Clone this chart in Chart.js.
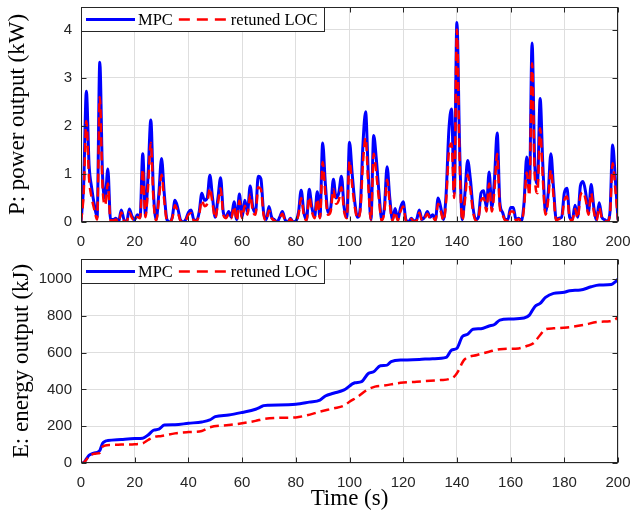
<!DOCTYPE html>
<html>
<head>
<meta charset="utf-8">
<script src="https://cdn.jsdelivr.net/npm/chart.js@4.4.1/dist/chart.umd.min.js"></script>
<style>
  html, body { margin: 0; padding: 0; background: #fff; }
  #wrap { position: relative; width: 633px; height: 519px; }
  canvas { position: absolute; left: 0; }
  #power { top: 0; }
  #energy { top: 252px; }
</style>
</head>
<body>
<div id="wrap">
  <canvas id="power" width="633" height="252"></canvas>
  <canvas id="energy" width="633" height="267"></canvas>
</div>
<script>
// power output (kW), one sample per second, t = 0..200 s
const mpcPower = [
  0, 0.8, 2.72, 1.2, 0.7, 0.35, 0.1, 3.32, 1.0, 0.5,
  1.1, 0.05, 0.05, 0.08, 0, 0.25, 0.05, 0, 0.27, 0.12,
  0.05, 0.15, 0.1, 1.42, 0.15, 1.0, 2.12, 0.6, 0.05, 0.6,
  1.32, 0.6, 0.05, 0, 0.1, 0.45, 0.3, 0.05, 0, 0.05,
  0.2, 0.25, 0.05, 0.03, 0.2, 0.6, 0.45, 0.5, 0.97, 0.5,
  0.1, 0.5, 0.92, 0.2, 0.1, 0.22, 0.1, 0.42, 0.05, 0.58,
  0.1, 0.45, 0.2, 0.75, 0.3, 0.2, 0.95, 0.9, 0.2, 0.05,
  0.32, 0.1, 0.05, 0, 0.1, 0.22, 0.05, 0, 0.08, 0,
  0.02, 0.2, 0.66, 0.2, 0.05, 0.68, 0.3, 0.1, 0.63, 0.1,
  1.64, 0.8, 0.2, 0.3, 0.89, 0.5, 0.6, 0.95, 0.3, 0.1,
  1.66, 1.0, 0.4, 0.1, 0.3, 1.6, 2.29, 1.0, 0.05, 1.8,
  1.3, 0.6, 0.05, 0.3, 1.15, 0.5, 0.05, 0.28, 0.05, 0.3,
  0.42, 0.05, 0, 0.08, 0.02, 0.05, 0.25, 0.05, 0.1, 0.22,
  0.1, 0.15, 0.05, 0.5, 0.3, 0.05, 0.6, 1.9, 2.35, 0.6,
  4.15, 1.6, 0.05, 0.6, 1.28, 0.9, 0.3, 0.05, 0.1, 0.6,
  0.65, 0.3, 1.04, 0.3, 0.9, 1.85, 0.4, 0.2, 0.05, 0.05,
  0.3, 0.3, 0.05, 0.08, 0.02, 0.4, 1.35, 0.7, 3.72, 1.2,
  0.8, 2.57, 1.2, 0.2, 0.6, 1.42, 0.7, 0.05, 0.08, 0.1,
  0.6, 0.7, 0.1, 0.05, 0.35, 0.1, 0.75, 0.84, 0.6, 0.2,
  0.78, 0.3, 0.05, 0.4, 0.1, 0.05, 0.02, 0.2, 1.6, 0.9,
  0.05
];
const locPower = [
  0, 0.6, 2.1, 0.9, 0.5, 0.25, 0.05, 2.6, 0.75, 0.35,
  0.8, 0.03, 0.03, 0.05, 0, 0.2, 0.03, 0, 0.2, 0.08,
  0.03, 0.1, 0.08, 1.1, 0.1, 0.75, 1.65, 0.45, 0.03, 0.45,
  0.98, 0.45, 0.03, 0, 0.08, 0.35, 0.22, 0.03, 0, 0.03,
  0.15, 0.18, 0.03, 0.02, 0.15, 0.45, 0.33, 0.38, 0.7, 0.38,
  0.08, 0.38, 0.7, 0.15, 0.08, 0.16, 0.08, 0.32, 0.03, 0.44,
  0.08, 0.34, 0.15, 0.57, 0.22, 0.15, 0.72, 0.68, 0.15, 0.03,
  0.24, 0.08, 0.03, 0, 0.08, 0.17, 0.03, 0, 0.06, 0,
  0.01, 0.15, 0.5, 0.15, 0.03, 0.52, 0.22, 0.08, 0.48, 0.08,
  1.25, 0.6, 0.15, 0.22, 0.68, 0.38, 0.45, 0.72, 0.22, 0.08,
  1.27, 0.76, 0.3, 0.08, 0.22, 1.22, 1.75, 0.76, 0.03, 1.42,
  1.0, 0.45, 0.03, 0.22, 0.88, 0.38, 0.03, 0.21, 0.03, 0.22,
  0.32, 0.03, 0, 0.06, 0.01, 0.03, 0.19, 0.03, 0.08, 0.17,
  0.08, 0.11, 0.03, 0.38, 0.22, 0.03, 0.45, 1.45, 1.63, 0.5,
  4.0, 1.3, 0.03, 0.45, 0.98, 0.68, 0.22, 0.03, 0.08, 0.45,
  0.5, 0.22, 0.8, 0.22, 0.68, 1.42, 0.3, 0.15, 0.03, 0.03,
  0.22, 0.22, 0.03, 0.06, 0.01, 0.3, 1.03, 0.55, 3.3, 0.95,
  0.6, 1.95, 0.9, 0.15, 0.45, 1.08, 0.53, 0.03, 0.06, 0.08,
  0.45, 0.53, 0.08, 0.03, 0.27, 0.08, 0.55, 0.62, 0.45, 0.15,
  0.6, 0.22, 0.03, 0.3, 0.08, 0.03, 0.01, 0.15, 1.22, 0.68,
  0.03
];

// energy output (kJ)
const mpcEnergyTime = [0, 1, 2, 3, 4, 5, 6, 7, 8, 9, 10, 15, 20, 23, 25, 27, 29, 31, 35, 40,
  45, 48, 50, 55, 60, 65, 67, 68, 70, 80, 85, 89, 91, 94, 98, 102, 104.5, 107, 109, 111.5,
  114, 115.5, 120, 126, 131, 136, 138, 140, 142, 144, 146, 149, 152, 154, 156, 160, 165, 167, 169, 171,
  173, 176, 180, 182, 186, 190, 193, 197.5, 199, 200];
const mpcEnergy = [0, 3, 22, 42, 50, 55, 58, 68, 106, 118, 122, 128, 133, 135, 152, 178, 184, 206, 208, 216,
  223, 234, 252, 261, 275, 292, 305, 312, 314, 319, 331, 342, 364, 379, 397, 436, 442, 487, 496, 529,
  532, 551, 560, 563, 567, 574, 614, 623, 687, 700, 727, 730, 745, 753, 777, 783, 788, 804, 850, 868,
  900, 922, 928, 937, 940, 958, 967, 970, 985, 1000];
const locEnergyTime = [0, 1, 2, 3, 4, 5, 6, 7, 8, 9, 11, 15, 20, 23, 25, 27, 30, 35, 40, 45,
  48, 55, 60, 65, 68, 75, 80, 83.5, 89, 94, 98, 100, 103, 106.5, 109.5, 112.5, 119, 125, 134, 137,
  139, 140.5, 142, 143, 147.5, 152, 156, 163, 166, 168.5, 171, 173, 176, 181, 187, 193, 197, 199, 200];
const locEnergy = [0, 2, 18, 38, 46, 50, 52, 56, 88, 95, 98, 100, 102, 107, 125, 141, 147, 161, 168, 174,
  194, 206, 216, 229, 239, 246, 248, 257, 279, 297, 312, 333, 359, 397, 415, 420, 436, 442, 451, 456,
  470, 500, 545, 565, 587, 605, 619, 623, 636, 651, 696, 727, 732, 737, 750, 768, 770, 780, 795];

const xTicks = [0, 20, 40, 60, 80, 100, 120, 140, 160, 180, 200];

const AXIS = "#262626";
const GRID = "#dedede";
const SANS = "'Liberation Sans', Arial, Helvetica, sans-serif";
const SERIF = "'Liberation Serif', 'Times New Roman', Times, serif";

function pts(xs, ys) {
  return ys.map((y, i) => ({ x: xs[i], y }));
}

// full box + inward ticks like matlab axes
const boxPlugin = {
  id: "box",
  afterDatasetsDraw(chart) {
    const { ctx, chartArea: a, scales } = chart;
    const L = Math.round(a.left) + 0.5, R = Math.round(a.right) - 0.5;
    const T = Math.round(a.top) + 0.5, B = Math.round(a.bottom) - 0.5;
    ctx.save();
    ctx.strokeStyle = AXIS;
    ctx.lineWidth = 1;
    ctx.strokeRect(L, T, R - L, B - T);
    ctx.beginPath();
    scales.x.ticks.forEach(t => {
      const px = Math.round(scales.x.getPixelForValue(t.value)) + 0.5;
      ctx.moveTo(px, B); ctx.lineTo(px, B - 5);
      ctx.moveTo(px, T); ctx.lineTo(px, T + 5);
    });
    scales.y.ticks.forEach(t => {
      const py = Math.round(scales.y.getPixelForValue(t.value)) + 0.5;
      ctx.moveTo(L, py); ctx.lineTo(L + 5, py);
      ctx.moveTo(R, py); ctx.lineTo(R - 5, py);
    });
    ctx.stroke();
    ctx.restore();
  }
};

const legendPlugin = {
  id: "boxLegend",
  afterDatasetsDraw(chart) {
    const { ctx, chartArea: a } = chart;
    const x0 = Math.round(a.left) + 0.5, y0 = Math.round(a.top) + 0.5;
    const w = 243, h = 24;
    ctx.save();
    ctx.fillStyle = "#fff";
    ctx.fillRect(x0, y0, w, h);
    ctx.strokeStyle = AXIS;
    ctx.lineWidth = 1;
    ctx.strokeRect(x0, y0, w, h);
    ctx.font = "16.5px " + SERIF;
    ctx.textBaseline = "middle";
    let x = x0 + 4.5;
    const ym = y0 + h / 2;
    chart.data.datasets.forEach(ds => {
      ctx.strokeStyle = ds.borderColor;
      ctx.lineWidth = ds.borderWidth;
      ctx.setLineDash(ds.legendDash || []);
      ctx.beginPath();
      ctx.moveTo(x, ym);
      ctx.lineTo(x + 49, ym);
      ctx.stroke();
      ctx.setLineDash([]);
      ctx.fillStyle = "#000";
      ctx.fillText(ds.label, x + 52, ym + 1);
      x += 52 + ctx.measureText(ds.label).width + 6;
    });
    ctx.restore();
  }
};

function makeChart(id, mpcData, locData, yOpts) {
  new Chart(document.getElementById(id), {
    type: "line",
    data: {
      datasets: [
        {
          label: "MPC", data: mpcData, borderColor: "#0000ff", borderWidth: 3,
          pointRadius: 0, cubicInterpolationMode: "monotone", order: 1
        },
        {
          label: "retuned LOC", data: locData, borderColor: "#ff0000", borderWidth: 2.5,
          borderDash: [9, 5], legendDash: [11, 7], pointRadius: 0,
          cubicInterpolationMode: "monotone", order: 0
        }
      ]
    },
    options: {
      responsive: false,
      animation: false,
      devicePixelRatio: 1,
      layout: { padding: { top: yOpts.padTop, right: 15, left: 0, bottom: 0 } },
      plugins: { legend: { display: false }, tooltip: { enabled: false } },
      scales: {
        x: {
          type: "linear", min: 0, max: 200,
          afterBuildTicks: s => { s.ticks = xTicks.map(v => ({ value: v })); },
          ticks: { color: AXIS, font: { family: SANS, size: 15 }, padding: 11, maxRotation: 0 },
          grid: { color: GRID, drawTicks: false },
          border: { display: false },
          title: {
            display: !!yOpts.xTitle, text: yOpts.xTitle || "", color: "#000",
            font: { family: SERIF, size: 23 }, padding: { top: 0, bottom: 6 }
          },
          afterFit: s => {
            s.height = yOpts.xHeight;
            s.paddingLeft = 0; s.paddingRight = 0;
          }
        },
        y: {
          min: 0, max: yOpts.max,
          afterBuildTicks: s => { s.ticks = yOpts.ticks.map(v => ({ value: v })); },
          ticks: {
            color: AXIS, font: { family: SANS, size: 15 }, padding: 9,
            callback: v => String(v)
          },
          grid: { color: GRID, drawTicks: false },
          border: { display: false },
          title: {
            display: true, text: yOpts.title, color: "#000",
            font: { family: SERIF, size: 23 }, padding: { top: yOpts.titlePad, bottom: 0 }
          },
          afterFit: s => {
            s.width = 81;
            s.paddingTop = 0; s.paddingBottom = 0;
          }
        }
      }
    },
    plugins: [boxPlugin, legendPlugin]
  });
}

const powerTime = mpcPower.map((_, i) => i);

makeChart("power", pts(powerTime, mpcPower), pts(powerTime, locPower), {
  max: 4.47, ticks: [0, 1, 2, 3, 4], title: "P: power output (kW)",
  titlePad: 4.5, padTop: 7, xHeight: 30
});

makeChart("energy", pts(mpcEnergyTime, mpcEnergy), pts(locEnergyTime, locEnergy), {
  max: 1109, ticks: [0, 200, 400, 600, 800, 1000], title: "E: energy output (kJ)",
  titlePad: 8, padTop: 7, xHeight: 56, xTitle: "Time (s)"
});
</script>
</body>
</html>
